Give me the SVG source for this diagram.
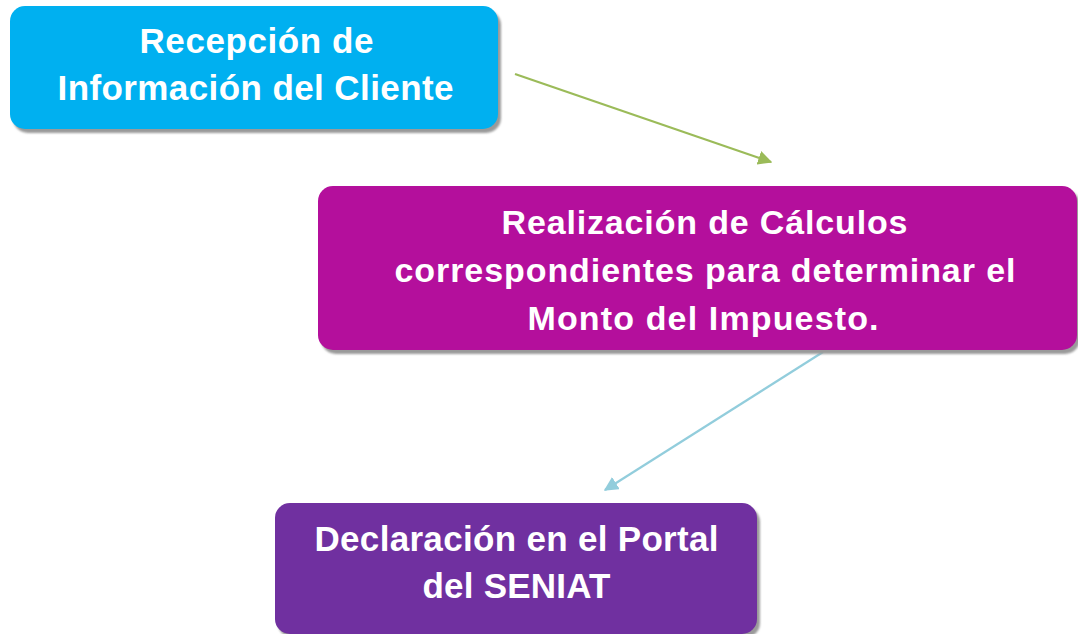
<svg xmlns="http://www.w3.org/2000/svg" width="1078" height="634" viewBox="0 0 1078 634">
<style>
.node text{font-family:"Liberation Sans",Arial,sans-serif;font-weight:bold;fill:#ffffff;text-anchor:middle}
.shadow{fill:#9a9a9a;filter:url(#blur)}
.conn{fill:none;stroke-width:2.2}
</style>
<defs>
<filter id="blur" x="-5%" y="-5%" width="110%" height="115%"><feGaussianBlur stdDeviation="1"/></filter>
<marker id="arrGreen" viewBox="0 0 10 10" refX="9" refY="5" markerWidth="6.5" markerHeight="6.5" orient="auto" markerUnits="strokeWidth"><path d="M0,0 L10,5 L0,10 z" fill="#9BBB59"/></marker>
<marker id="arrBlue" viewBox="0 0 10 10" refX="9" refY="5" markerWidth="6.5" markerHeight="6.5" orient="auto" markerUnits="strokeWidth"><path d="M0,0 L10,5 L0,10 z" fill="#92CDDC"/></marker>
</defs>
<rect width="1078" height="634" fill="#ffffff"/>
<g id="connectors">
<line class="conn" x1="515" y1="74" x2="771" y2="162" stroke="#9BBB59" marker-end="url(#arrGreen)"/>
<line class="conn" x1="823" y1="352" x2="605" y2="490" stroke="#92CDDC" marker-end="url(#arrBlue)"/>
</g>
<g id="node1" class="node">
<rect class="shadow" x="13" y="10" width="488" height="123" rx="15"/>
<rect x="10" y="6" width="488" height="123" rx="15" fill="#00B0F0"/>
<text x="256.5" y="53" font-size="35" textLength="234" lengthAdjust="spacing">Recepción de</text>
<text x="255.5" y="100" font-size="35" textLength="396" lengthAdjust="spacing">Información del Cliente</text>
</g>
<g id="node2" class="node">
<rect class="shadow" x="321" y="190" width="759" height="164" rx="15"/>
<rect x="318" y="186" width="759" height="164" rx="15" fill="#B40F9C"/>
<text x="704.5" y="234" font-size="34" textLength="406" lengthAdjust="spacing">Realización de Cálculos</text>
<text x="705" y="282" font-size="34" textLength="621" lengthAdjust="spacing">correspondientes para determinar el</text>
<text x="703" y="330" font-size="34" textLength="351" lengthAdjust="spacing">Monto del Impuesto.</text>
</g>
<g id="node3" class="node">
<rect class="shadow" x="278" y="507" width="482" height="131" rx="15"/>
<rect x="275" y="503" width="482" height="131" rx="15" fill="#7030A0"/>
<text x="516.5" y="551" font-size="35" textLength="404" lengthAdjust="spacing">Declaración en el Portal</text>
<text x="516.5" y="598" font-size="35" textLength="188" lengthAdjust="spacing">del SENIAT</text>
</g>
</svg>
